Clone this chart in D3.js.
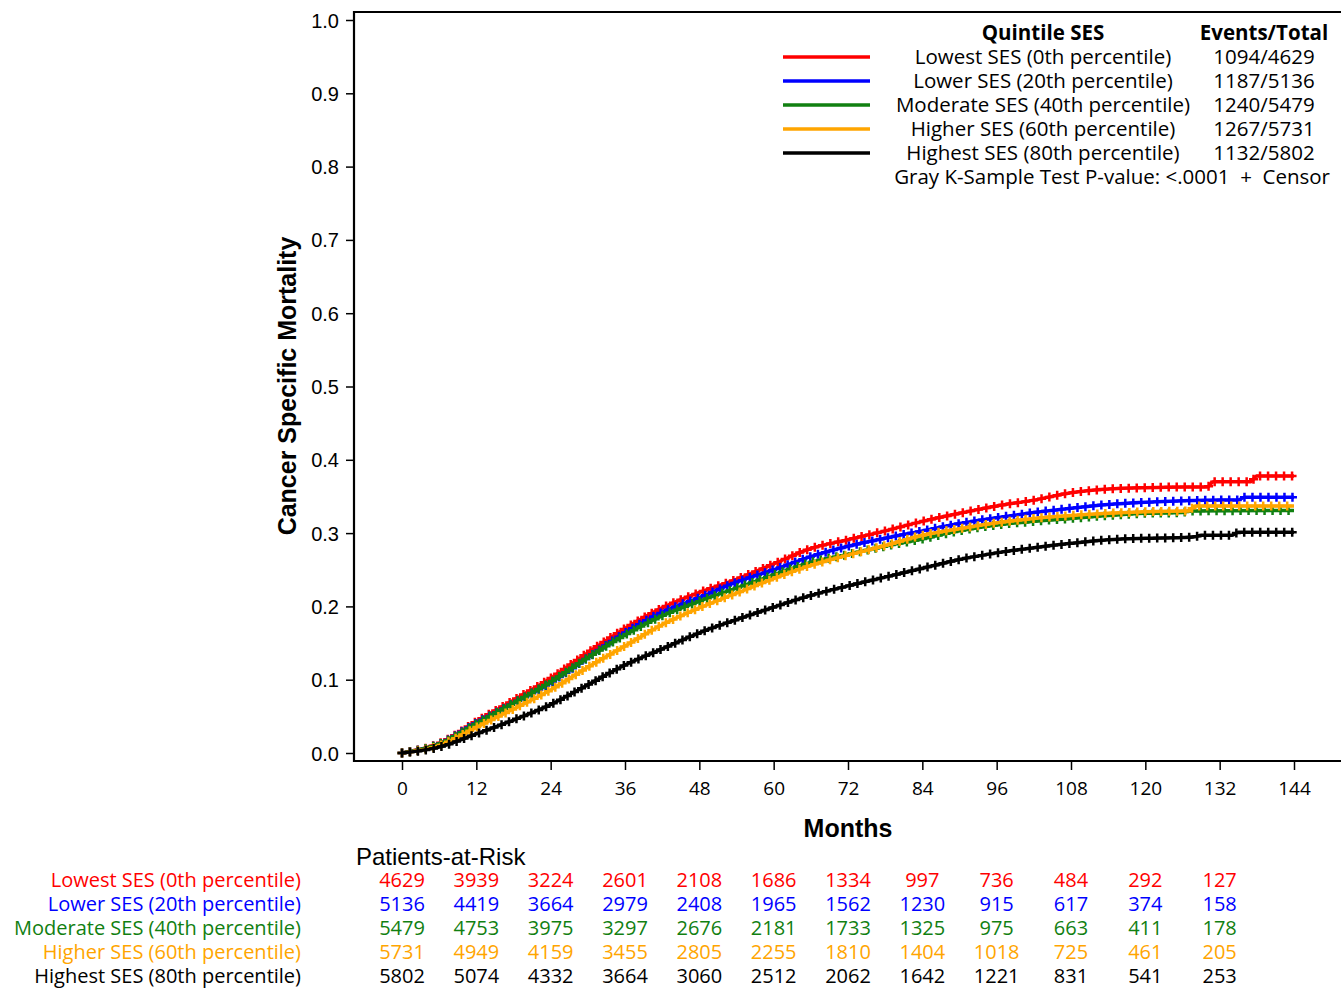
<!DOCTYPE html>
<meta charset="utf-8">
<head>
  <style>
    body { margin: 0; background: #fff; }
    text { font-family: "Open Sans", "Liberation Sans", sans-serif; }
  </style>
  <script src="https://cdn.jsdelivr.net/npm/d3@7"></script>
</head>
<body>
<script>
  // readings (month, cumulative incidence)
  const months = [0, 6, 12, 18, 24, 30, 36, 42, 48, 54, 60, 66, 72, 78, 84, 90, 96, 102, 108, 114, 120, 126];
  const lowest  = [0, 0.013, 0.043, 0.072, 0.102, 0.137, 0.170, 0.198, 0.219, 0.237, 0.258, 0.279, 0.291, 0.303, 0.316, 0.327, 0.337, 0.345, 0.355, 0.360, 0.362, 0.363];
  const lower   = [0, 0.012, 0.041, 0.068, 0.096, 0.130, 0.164, 0.192, 0.212, 0.233, 0.250, 0.268, 0.282, 0.293, 0.303, 0.313, 0.321, 0.328, 0.334, 0.339, 0.342, 0.344];
  const moderate= [0, 0.012, 0.040, 0.068, 0.097, 0.130, 0.161, 0.187, 0.207, 0.225, 0.243, 0.260, 0.271, 0.282, 0.292, 0.303, 0.311, 0.316, 0.320, 0.324, 0.327, 0.328];
  const higher  = [0, 0.010, 0.035, 0.060, 0.086, 0.117, 0.146, 0.175, 0.198, 0.218, 0.238, 0.256, 0.270, 0.283, 0.297, 0.306, 0.314, 0.320, 0.324, 0.327, 0.329, 0.330];
  const highest = [0, 0.008, 0.026, 0.045, 0.066, 0.093, 0.120, 0.142, 0.164, 0.182, 0.199, 0.215, 0.228, 0.240, 0.252, 0.264, 0.273, 0.280, 0.286, 0.291, 0.293, 0.294];
  // tail readings, where the curves jump
  const lowestTail   = [[130, 0.363], [131, 0.370], [137, 0.370], [138, 0.378], [144, 0.378]];
  const lowerTail    = [[132, 0.345], [135, 0.345], [136, 0.349], [144, 0.349]];
  const moderateTail = [[127, 0.330], [144, 0.331]];
  const higherTail   = [[127, 0.330], [128, 0.337], [144, 0.337]];
  const highestTail  = [[128, 0.295], [129, 0.297], [134, 0.297], [135, 0.301], [144, 0.301]];

  const groups = ["Lowest SES (0th percentile)", "Lower SES (20th percentile)", "Moderate SES (40th percentile)",
                  "Higher SES (60th percentile)", "Highest SES (80th percentile)"];
  const colors = ["#ff0000", "#0000ff", "#118011", "#ffa500", "#000000"];
  const eventsTotal = ["1094/4629", "1187/5136", "1240/5479", "1267/5731", "1132/5802"];

  const xTicks = [0, 12, 24, 36, 48, 60, 72, 84, 96, 108, 120, 132, 144];
  const yTicks = [0, 0.1, 0.2, 0.3, 0.4, 0.5, 0.6, 0.7, 0.8, 0.9, 1.0];
  const riskMonths = [0, 12, 24, 36, 48, 60, 72, 84, 96, 108, 120, 132];
  const atRisk = [
    [4629, 3939, 3224, 2601, 2108, 1686, 1334, 997, 736, 484, 292, 127],
    [5136, 4419, 3664, 2979, 2408, 1965, 1562, 1230, 915, 617, 374, 158],
    [5479, 4753, 3975, 3297, 2676, 2181, 1733, 1325, 975, 663, 411, 178],
    [5731, 4949, 4159, 3455, 2805, 2255, 1810, 1404, 1018, 725, 461, 205],
    [5802, 5074, 4332, 3664, 3060, 2512, 2062, 1642, 1221, 831, 541, 253]
  ];

  const series = [lowest, lower, moderate, higher, highest].map((vals, i) => {
    const tail = [lowestTail, lowerTail, moderateTail, higherTail, highestTail][i];
    return months.map((m, j) => [m, vals[j]]).concat(tail);
  });

  const W = 1341, H = 988;
  const plotL = 354, plotT = 12, plotB = 761, plotR = 1350;

  const x = d3.scaleLinear().domain([0, 144]).range([402, 1294]);
  const y = d3.scaleLinear().domain([0, 1]).range([753, 20]);

  const svg = d3.select("body").append("svg")
    .attr("width", W).attr("height", H);

  // frame
  svg.append("path")
    .attr("d", `M${plotR},${plotT}H${plotL}V${plotB}H${plotR}`)
    .attr("fill", "none").attr("stroke", "#000").attr("stroke-width", 2.2);

  // y axis
  const yAxis = svg.append("g")
    .attr("transform", `translate(${plotL},0)`)
    .call(d3.axisLeft(y).tickValues(yTicks).tickFormat(d3.format(".1f")).tickSize(8).tickSizeOuter(0));
  yAxis.select(".domain").remove();
  yAxis.selectAll("line").attr("stroke-width", 1.5);
  yAxis.selectAll("text").attr("font-size", 20).attr("x", -15).attr("dy", "0.35em")
    .style("font-family", "'Liberation Sans', Arial, sans-serif");

  // x axis
  const xAxis = svg.append("g")
    .attr("transform", `translate(0,${plotB})`)
    .call(d3.axisBottom(x).tickValues(xTicks).tickSize(9).tickSizeOuter(0));
  xAxis.select(".domain").remove();
  xAxis.selectAll("line").attr("stroke-width", 1.5);
  xAxis.selectAll("text").attr("font-size", 19).attr("y", 21);

  svg.append("text")
    .attr("transform", "translate(296,386) rotate(-90)")
    .attr("text-anchor", "middle")
    .attr("font-size", 25).attr("font-weight", "bold")
    .style("font-family", "'Liberation Sans', Arial, sans-serif")
    .text("Cancer Specific Mortality");

  svg.append("text")
    .attr("x", 848).attr("y", 837)
    .attr("text-anchor", "middle")
    .attr("font-size", 25).attr("font-weight", "bold")
    .style("font-family", "'Liberation Sans', Arial, sans-serif")
    .text("Months");

  // curves with censor marks
  const line = d3.line()
    .x(d => x(d[0])).y(d => y(d[1]))
    .curve(d3.curveMonotoneX);

  const curves = svg.append("g");
  series.forEach((s, i) => {
    const g = curves.append("g");
    const p = g.append("path")
      .attr("d", line(s))
      .attr("fill", "none")
      .attr("stroke", colors[i])
      .attr("stroke-width", 3.5);
    const node = p.node();
    const len = node.getTotalLength();
    for (let l = 0; l <= len; l += 8) {
      const pt = node.getPointAtLength(l);
      g.append("path")
        .attr("d", `M${pt.x - 4.5},${pt.y}H${pt.x + 4.5}M${pt.x},${pt.y - 4.5}V${pt.y + 4.5}`)
        .attr("stroke", colors[i]).attr("stroke-width", 2.5);
    }
  });

  // legend
  const legend = svg.append("g").style("font-family", "'Open Sans', sans-serif");
  legend.append("text").attr("x", 1043).attr("y", 40).attr("text-anchor", "middle")
    .attr("font-size", 20.5).attr("font-weight", "bold").text("Quintile SES");
  legend.append("text").attr("x", 1264).attr("y", 40).attr("text-anchor", "middle")
    .attr("font-size", 20.5).attr("font-weight", "bold").text("Events/Total");
  groups.forEach((gname, i) => {
    const ly = 57 + i * 24;
    legend.append("line").attr("x1", 783).attr("x2", 870).attr("y1", ly).attr("y2", ly)
      .attr("stroke", colors[i]).attr("stroke-width", 3.5);
    legend.append("text").attr("x", 1043).attr("y", ly + 7).attr("text-anchor", "middle")
      .attr("font-size", 20.5).text(gname);
    legend.append("text").attr("x", 1264).attr("y", ly + 7).attr("text-anchor", "middle")
      .attr("font-size", 20.5).text(eventsTotal[i]);
  });
  legend.append("text").attr("x", 1330).attr("y", 184).attr("text-anchor", "end")
    .attr("font-size", 20.5).attr("xml:space", "preserve")
    .text("Gray K-Sample Test P-value: <.0001  +  Censor");

  // patients at risk table
  svg.append("text").attr("x", 356).attr("y", 865)
    .attr("font-size", 24)
    .style("font-family", "'Liberation Sans', Arial, sans-serif")
    .text("Patients-at-Risk");
  groups.forEach((gname, i) => {
    const ry = 887 + i * 24;
    svg.append("text").attr("x", 301).attr("y", ry).attr("text-anchor", "end")
      .attr("font-size", 20).attr("fill", colors[i]).text(gname);
    svg.append("g").selectAll("text").data(atRisk[i]).join("text")
      .attr("x", (d, j) => x(riskMonths[j])).attr("y", ry)
      .attr("text-anchor", "middle").attr("font-size", 20)
      .attr("fill", colors[i]).text(d => d);
  });
</script>
</body>
</html>
